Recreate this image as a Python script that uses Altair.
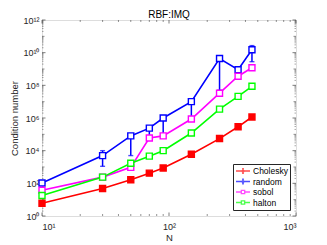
import altair as alt
import pandas as pd

N = [10, 30, 50, 70, 90, 150, 250, 350, 450]
cholesky = [6, 48, 165, 420, 870, 6000, 5.5e4, 2.9e5, 1.15e6]
random_ = [105, 5000, 8e4, 2.4e5, 1.0e6, 1.0e7, 4.4e9, 9e8, 1.5e10]
sobol = [38, 240, 950, 6e4, 8e4, 8.7e5, 3.3e7, 3.6e8, 1.2e9]
halton = [18, 240, 1.7e3, 4.6e3, 1e4, 1.2e5, 3.5e6, 2.1e7, 8.7e7]
random_lo = [85, 1.1e3, 5e3, 6e4, 8e4, 8e5, 5e7, 8e8, 2.8e9]
random_hi = [120, 1e4, 9e4, 2.6e5, 1.2e6, 1.1e7, 5e9, 1e9, 2.7e10]

series_names = ["Cholesky", "random", "sobol", "halton"]
series_colors = ["#FF0000", "#0000FF", "#FF00FF", "#00FF00"]

x_major = [10, 100, 1000]
x_minor = [20, 30, 40, 50, 60, 70, 80, 90, 200, 300, 400, 500, 600, 700, 800, 900]
y_major = [1e0, 1e2, 1e4, 1e6, 1e8, 1e10, 1e12]
y_decade = [1e1, 1e3, 1e5, 1e7, 1e9, 1e11]

rows = []
for name, vals in zip(series_names, [cholesky, random_, sobol, halton]):
    for n, v in zip(N, vals):
        rows.append({"N": n, "value": v, "series": name})
df = pd.DataFrame(rows)
err_df = pd.DataFrame({"N": N, "lo": random_lo, "hi": random_hi})

y_minor = []
for e in range(12):
    for m in range(2, 10):
        y_minor.append(m * 10 ** e)

W, H = 254, 196
FONT = "Liberation Sans"
AX = "#262626"

xscale = alt.Scale(type="log", domain=[10, 1000], nice=False)
yscale = alt.Scale(type="log", domain=[1, 1e12], nice=False)
cscale = alt.Scale(domain=series_names, range=series_colors)

sup = "['10⁰','10¹','10²','10³','10⁴','10⁵','10⁶','10⁷','10⁸','10⁹','10¹⁰','10¹¹','10¹²'][round(log(datum.value)/LN10)]"

xaxis = alt.Axis(values=x_major, labelExpr=sup, ticks=False, domain=False, grid=False,
                 labelFont=FONT, labelFontSize=9, labelColor=AX, labelPadding=6,
                 title="N", titleFont=FONT, titleFontSize=9.5, titleFontWeight="normal",
                 titleColor=AX, titlePadding=1)
yaxis = alt.Axis(values=y_major, labelExpr=sup, ticks=False, domain=False, grid=False,
                 labelFont=FONT, labelFontSize=9, labelColor=AX, labelPadding=3,
                 title="Condition number", titleFont=FONT, titleFontSize=9.5,
                 titleFontWeight="normal", titleColor=AX, titlePadding=3)

X = alt.X("N:Q", scale=xscale, axis=xaxis)
Y = alt.Y("value:Q", scale=yscale, axis=yaxis)

eb_path = ("M-1,0H-0.18M0.18,0H1M0,-0.32V-0.13M0,0.13V0.32M-0.12,-0.32H0.12M-0.12,0.32H0.12"
           "M-0.13,0A0.13,0.13 0 1,0 0.13,0A0.13,0.13 0 1,0 -0.13,0")
sq_path = "M-1,0H-0.24M0.24,0H1M-0.24,-0.24H0.24V0.24H-0.24Z"

leg = alt.Legend(orient="bottom-right", offset=6, fillColor="white", strokeColor=AX,
                 padding=2, labelFont=FONT, labelFontSize=8.5, labelColor="#000",
                 symbolSize=196, symbolStrokeWidth=1.3, rowPadding=0.5, clipHeight=10,
                 labelOffset=2, title=None)
legend_layer = alt.Chart(df).transform_filter("false").mark_point(filled=False, strokeWidth=1.3).encode(
    x=X, y=Y,
    color=alt.Color("series:N", scale=cscale, legend=leg, title=None),
    shape=alt.Shape("series:N", scale=alt.Scale(domain=series_names,
                                                range=[eb_path, eb_path, sq_path, sq_path]),
                    legend=leg, title=None))

lines = alt.Chart(df).mark_line(strokeWidth=1.6).encode(
    x=X, y=Y, color=alt.Color("series:N", scale=cscale, legend=None))

err_rule = alt.Chart(err_df).mark_rule(strokeWidth=1.5, color="#0000FF").encode(
    x=alt.X("N:Q", scale=xscale), y=alt.Y("lo:Q", scale=yscale), y2="hi:Q")
cap_lo = alt.Chart(err_df).mark_tick(orient="horizontal", size=5, thickness=1.4, color="#0000FF").encode(
    x=alt.X("N:Q", scale=xscale), y=alt.Y("lo:Q", scale=yscale))
cap_hi = alt.Chart(err_df).mark_tick(orient="horizontal", size=5, thickness=1.4, color="#0000FF").encode(
    x=alt.X("N:Q", scale=xscale), y=alt.Y("hi:Q", scale=yscale))

points = alt.Chart(df).mark_point(shape="square", size=36, strokeWidth=1.4, opacity=1).encode(
    x=X, y=Y,
    stroke=alt.Stroke("series:N", scale=cscale, legend=None),
    fill=alt.condition("datum.series == 'Cholesky'", alt.value("#FF0000"), alt.value("white")))

tx_major = pd.DataFrame({"t": x_major})
tx_minor = pd.DataFrame({"t": x_minor})
ty_major = pd.DataFrame({"t": y_major})
ty_dec = pd.DataFrame({"t": y_decade})
ty_minor = pd.DataFrame({"t": y_minor})

def xticks(d, L, w):
    b = alt.Chart(d).mark_rule(color=AX, strokeWidth=w)
    return (b.encode(x=alt.X("t:Q", scale=xscale), y=alt.value(H), y2=alt.value(H - L)) +
            b.encode(x=alt.X("t:Q", scale=xscale), y=alt.value(0), y2=alt.value(L)))

def yticks(d, L, w):
    b = alt.Chart(d).mark_rule(color=AX, strokeWidth=w)
    return (b.encode(y=alt.Y("t:Q", scale=yscale), x=alt.value(0), x2=alt.value(L)) +
            b.encode(y=alt.Y("t:Q", scale=yscale), x=alt.value(W), x2=alt.value(W - L)))

ticks = (xticks(tx_major, 3.5, 0.6) + xticks(tx_minor, 2, 0.5) +
         yticks(ty_major, 3.5, 0.6) + yticks(ty_dec, 2.5, 0.5) + yticks(ty_minor, 1.5, 0.4))

chart = alt.layer(legend_layer, ticks, lines, err_rule, cap_lo, cap_hi, points).properties(
    width=W, height=H,
    title=alt.TitleParams("RBF:IMQ", font=FONT, fontSize=10, fontWeight="normal",
                          color="#000", offset=2, dy=6),
    autosize=alt.AutoSizeParams(type="none"),
    padding={"left": 34, "top": 12, "right": 23, "bottom": 26},
).configure_view(stroke=AX, strokeWidth=0.8).configure(background="white")

chart.save("out.html", embed_options={"renderer": "svg", "actions": False})
